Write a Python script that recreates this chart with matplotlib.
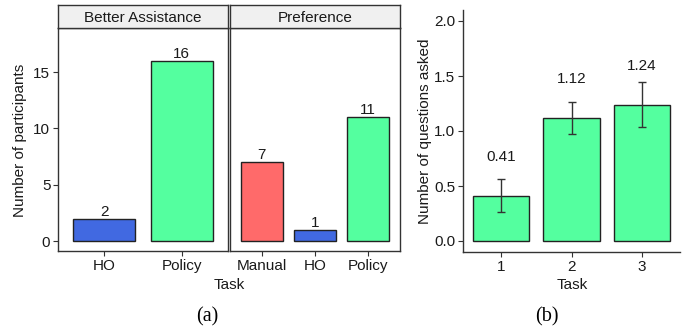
import matplotlib.pyplot as plt

W, H = 686, 330

# panel (a) data
assist_cats = ['HO', 'Policy']
assist_counts = [2, 16]
pref_cats = ['Manual', 'HO', 'Policy']
pref_counts = [7, 1, 11]
cat_colors = {'Manual': '#FF6A6A', 'HO': '#4169E1', 'Policy': '#54FF9F'}

# panel (b) data
tasks = ['1', '2', '3']
questions = [0.41, 1.12, 1.24]
q_err = [0.15, 0.145, 0.205]

plt.rcParams['font.family'] = ['Liberation Sans', 'DejaVu Sans']
FS = 11
dark = '#333333'
txt = '#1a1a1a'


def box(x0, y0, x1, y1):
    # pixel box -> figure fraction
    return [x0 / W, 1 - y1 / H, (x1 - x0) / W, (y1 - y0) / H]


def style_ticks(ax):
    ax.tick_params(axis='both', direction='out', length=3.5, width=0.8,
                   color=dark, labelcolor=txt, labelsize=FS, pad=2)


fig = plt.figure(figsize=(W / 100, H / 100), dpi=100)

# ---- panel (a): two facets
facets = [('Better Assistance', assist_cats, assist_counts, 58, 228),
          ('Preference', pref_cats, pref_counts, 230, 400)]
for i, (title, cats, counts, x0, x1) in enumerate(facets):
    ax = fig.add_axes(box(x0, 28, x1, 251))
    xs = range(1, len(cats) + 1)
    ax.bar(xs, counts, width=0.8, color=[cat_colors[c] for c in cats],
           edgecolor='#222222', linewidth=1)
    for x, v in zip(xs, counts):
        ax.annotate(str(v), (x, v), xytext=(0, 0), textcoords='offset points',
                    ha='center', va='bottom', fontsize=FS, color=txt)
    ax.set_xlim(0.4, len(cats) + 0.6)
    ax.set_ylim(-0.85, 18.9)
    ax.set_xticks(list(xs))
    ax.set_xticklabels(cats)
    ax.set_yticks([0, 5, 10, 15])
    style_ticks(ax)
    for s in ax.spines.values():
        s.set_color(dark)
        s.set_linewidth(1)
    if i > 0:
        ax.tick_params(axis='y', left=False, labelleft=False)
    # facet strip
    st = fig.add_axes(box(x0, 5, x1, 28))
    st.set_facecolor('#F0F0F0')
    st.set_xticks([])
    st.set_yticks([])
    for s in st.spines.values():
        s.set_color(dark)
        s.set_linewidth(1)
    st.text(0.5, 0.45, title, ha='center', va='center', transform=st.transAxes,
            fontsize=FS, color=txt)

fig.text(20 / W, 1 - 140 / H, 'Number of participants', rotation=90,
         ha='center', va='center', fontsize=FS, color=txt)
fig.text(229 / W, 1 - 285 / H, 'Task', ha='center', va='center', fontsize=FS, color=txt)
fig.text(207 / W, 1 - 317 / H, '(a)', ha='center', va='center', fontsize=14.5,
         family='Liberation Serif', color='black')

# ---- panel (b)
axb = fig.add_axes(box(463, 10, 680, 252))
xb = range(1, len(tasks) + 1)
axb.bar(xb, questions, width=0.8, color='#54FF9F', edgecolor='#222222', linewidth=1)
axb.errorbar(xb, questions, yerr=q_err, fmt='none', ecolor=dark, elinewidth=1,
             capsize=3, capthick=1)
for x, v in zip(xb, questions):
    axb.text(x, v + 0.35, f'{v:.2f}', ha='center', va='center', fontsize=FS, color=txt)
axb.set_xlim(0.465, 3.535)
axb.set_ylim(-0.1, 2.1)
axb.set_xticks(list(xb))
axb.set_xticklabels(tasks)
axb.set_yticks([0, 0.5, 1.0, 1.5, 2.0])
axb.set_yticklabels(['0.0', '0.5', '1.0', '1.5', '2.0'])
style_ticks(axb)
axb.spines['top'].set_visible(False)
axb.spines['right'].set_visible(False)
for s in ('left', 'bottom'):
    axb.spines[s].set_color(dark)
    axb.spines[s].set_linewidth(1)

fig.text(425 / W, 1 - 131 / H, 'Number of questions asked', rotation=90,
         ha='center', va='center', fontsize=FS, color=txt)
fig.text(572 / W, 1 - 285 / H, 'Task', ha='center', va='center', fontsize=FS, color=txt)
fig.text(547 / W, 1 - 317 / H, '(b)', ha='center', va='center', fontsize=14.5,
         family='Liberation Serif', color='black')

fig.savefig('out.png', dpi=100)
